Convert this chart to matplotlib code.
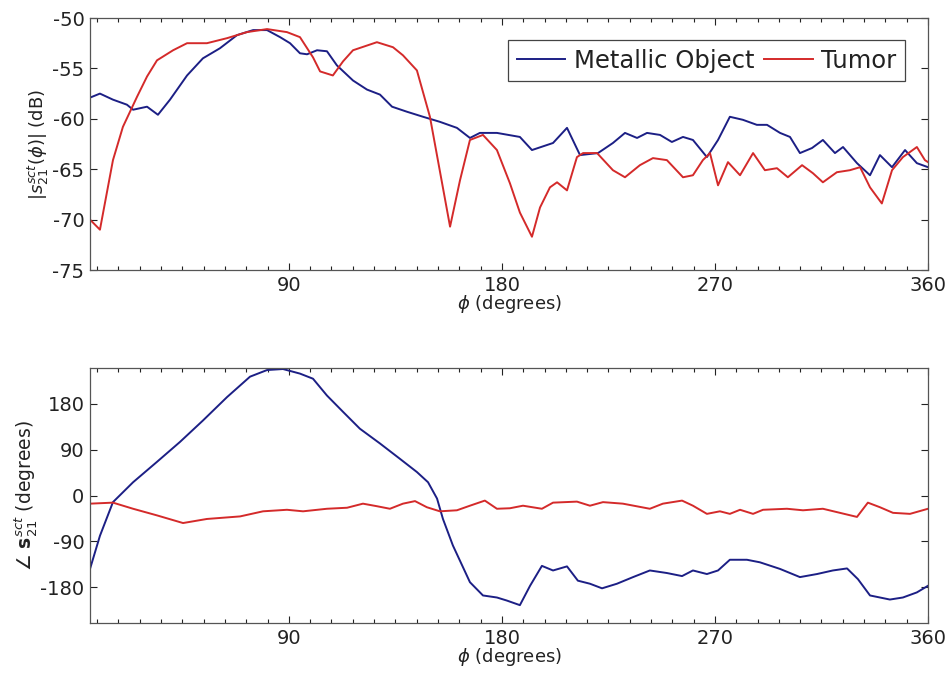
import matplotlib
matplotlib.use("Agg")
import matplotlib.pyplot as plt
from matplotlib.ticker import MultipleLocator

plt.rcParams['font.family'] = ['DejaVu Sans']
plt.rcParams['mathtext.fontset'] = 'dejavusans'
plt.rcParams['axes.unicode_minus'] = False

# ---- Top panel: magnitude (dB) ----
metal_mag_phi = [6.0, 10.2, 15.7, 21.6, 24.2, 30.1, 34.7, 39.8, 47.0, 53.7, 60.9, 68.1, 74.9,
                 80.8, 86.3, 90.5, 94.7, 97.7, 101.9, 106.1, 110.3, 117.1, 123.0, 128.5, 133.6,
                 139.9, 146.7, 153.8, 161.0, 166.5, 170.7, 177.9, 187.6, 192.7, 201.6, 207.5,
                 213.0, 220.6, 226.9, 232.0, 237.1, 241.3, 246.8, 251.8, 256.5, 260.7, 266.6,
                 271.3, 276.3, 281.8, 287.7, 292.0, 297.5, 301.7, 305.9, 311.0, 315.6, 320.7,
                 324.1, 330.0, 335.5, 339.7, 344.8, 350.3, 355.3, 360.0]
metal_mag = [-57.9, -57.5, -58.1, -58.6, -59.1, -58.8, -59.6, -58.1, -55.7, -54.0, -53.0, -51.7,
             -51.2, -51.2, -51.9, -52.5, -53.5, -53.6, -53.2, -53.3, -54.7, -56.2, -57.1, -57.6,
             -58.8, -59.3, -59.8, -60.3, -60.9, -61.9, -61.4, -61.4, -61.8, -63.1, -62.4, -60.9,
             -63.6, -63.4, -62.4, -61.4, -61.9, -61.4, -61.6, -62.3, -61.8, -62.1, -63.8, -62.1,
             -59.8, -60.1, -60.6, -60.6, -61.4, -61.8, -63.4, -62.9, -62.1, -63.4, -62.8, -64.4,
             -65.6, -63.6, -64.8, -63.1, -64.4, -64.8]

tumor_mag_phi = [6.0, 10.2, 15.7, 19.9, 25.9, 30.1, 34.3, 41.1, 47.0, 55.4, 63.9, 72.3, 80.8,
                 89.2, 94.7, 100.2, 103.2, 108.6, 112.9, 117.1, 127.2, 134.0, 138.2, 144.1,
                 149.6, 158.1, 162.3, 166.5, 172.0, 177.9, 183.4, 187.6, 192.7, 196.1, 200.3,
                 203.3, 207.5, 211.7, 214.3, 220.2, 226.9, 232.0, 238.3, 243.8, 249.7, 256.5,
                 260.7, 264.9, 267.9, 271.3, 275.5, 280.6, 286.1, 291.1, 296.2, 300.8, 306.8,
                 311.4, 315.6, 321.5, 327.0, 331.3, 335.5, 340.5, 344.8, 349.4, 355.3, 358.7, 360.0]
tumor_mag = [-70.0, -71.0, -64.1, -60.8, -57.8, -55.8, -54.2, -53.2, -52.5, -52.5, -52.0, -51.4,
             -51.1, -51.4, -51.9, -53.9, -55.3, -55.7, -54.3, -53.2, -52.4, -52.9, -53.7, -55.2,
             -59.8, -70.7, -66.1, -62.1, -61.6, -63.1, -66.4, -69.3, -71.7, -68.8, -66.8, -66.3,
             -67.1, -63.8, -63.4, -63.4, -65.1, -65.8, -64.6, -63.9, -64.1, -65.8, -65.6, -64.1,
             -63.4, -66.6, -64.3, -65.6, -63.4, -65.1, -64.9, -65.8, -64.6, -65.4, -66.3, -65.3,
             -65.1, -64.8, -66.8, -68.4, -65.1, -63.8, -62.8, -64.1, -64.3]

# ---- Bottom panel: phase (degrees) ----
metal_ph_phi = [6.0, 10.2, 15.7, 24.2, 34.3, 44.0, 53.7, 63.9, 73.6, 80.8, 87.5, 94.7, 100.2,
                106.1, 112.9, 120.0, 128.5, 136.9, 144.1, 148.8, 152.6, 155.1, 159.3, 165.2,
                166.5, 172.0, 177.9, 182.1, 187.6, 191.9, 196.9, 201.6, 207.5, 212.1, 217.2,
                222.3, 228.6, 235.4, 242.5, 249.7, 256.1, 260.7, 266.6, 271.3, 276.3, 283.5,
                289.0, 297.5, 305.9, 313.1, 319.8, 325.8, 330.4, 335.5, 343.9, 349.4, 355.3, 360.0]
metal_ph = [-144, -79, -13, 26, 66, 105, 147, 193, 233, 246, 248, 239, 229, 196, 164, 131, 102,
            72, 46, 26, -6, -46, -98, -157, -170, -196, -200, -206, -215, -177, -138, -147, -139,
            -167, -173, -182, -173, -160, -147, -152, -158, -147, -154, -147, -126, -126, -131,
            -144, -160, -154, -147, -143, -164, -196, -204, -200, -190, -177]

tumor_ph_phi = [6.0, 15.7, 24.2, 34.3, 45.3, 55.4, 69.4, 79.1, 89.2, 96.0, 106.1, 114.6, 121.3,
                127.2, 132.7, 138.2, 143.3, 148.3, 153.8, 161.0, 166.5, 172.8, 177.9, 183.4,
                188.9, 196.9, 201.6, 211.7, 217.2, 222.7, 231.1, 242.5, 248.0, 256.1, 260.7,
                266.6, 272.1, 276.3, 280.6, 286.1, 290.3, 300.4, 307.2, 315.6, 322.8, 330.0,
                334.6, 339.7, 345.2, 352.4, 360.0]
tumor_ph = [-16, -14, -26, -39, -54, -46, -41, -31, -28, -31, -26, -24, -16, -21, -26, -16, -11,
            -23, -31, -29, -20, -10, -26, -25, -20, -26, -14, -12, -20, -13, -16, -26, -16, -10,
            -20, -36, -31, -36, -28, -36, -28, -26, -29, -26, -34, -42, -14, -23, -34, -36, -26]

series_labels = ["Metallic Object", "Tumor"]
x_ticks = [90, 180, 270, 360]
mag_ticks = [-75, -70, -65, -60, -55, -50]
ph_ticks = [-180, -90, 0, 90, 180]

BLUE = "#1c1f85"
RED = "#d42a2a"
LW = 1.4

fig = plt.figure(figsize=(9.49, 6.82), dpi=100)
W, H = 949, 682
ax1 = fig.add_axes([90 / W, 1 - 270 / H, 838 / W, 252 / H])
ax2 = fig.add_axes([90 / W, 1 - 623 / H, 838 / W, 255 / H])

l1, = ax1.plot(metal_mag_phi, metal_mag, color=BLUE, lw=LW, label=series_labels[0])
l2, = ax1.plot(tumor_mag_phi, tumor_mag, color=RED, lw=LW, label=series_labels[1])
ax2.plot(metal_ph_phi, metal_ph, color=BLUE, lw=LW)
ax2.plot(tumor_ph_phi, tumor_ph, color=RED, lw=LW)

for ax in (ax1, ax2):
    ax.set_xlim(6, 360)
    ax.set_xticks(x_ticks)
    ax.xaxis.set_minor_locator(MultipleLocator(9))
    ax.tick_params(which='both', direction='in', top=True, right=True, colors='#222222',
                   labelsize=14, labelcolor='#222222')
    ax.tick_params(which='major', length=5, width=0.8, pad=4)
    ax.tick_params(which='minor', length=3, width=0.8)
    ax.tick_params(axis='y', which='minor', left=False, right=False)
    for s in ax.spines.values():
        s.set_color('#555555')
        s.set_linewidth(0.9)
    ax.set_xlabel(r'$\phi$ (degrees)', fontsize=13, labelpad=-1, color='#222222')

ax1.set_ylim(-75, -50)
ax1.set_yticks(mag_ticks)
ax1.set_ylabel(r'$|s_{21}^{sct}(\phi)|$ (dB)', fontsize=13, labelpad=1, color='#222222')

ax2.set_ylim(-250, 250)
ax2.set_yticks(ph_ticks)
ax2.set_ylabel(r'$\angle\ \mathbf{s}_{21}^{sct}$ (degrees)', fontsize=13.5, labelpad=1,
               color='#222222')

leg = ax1.legend(handles=[l1, l2], ncol=2, loc='upper right',
                 bbox_to_anchor=((905 - 90) / 838, 1 - (40 - 18) / 252),
                 borderaxespad=0, fontsize=17.5, frameon=True, fancybox=False,
                 framealpha=1, edgecolor='#444444', handlelength=2.0,
                 handletextpad=0.35, columnspacing=0.4, borderpad=0.35)
leg.get_frame().set_linewidth(0.9)
for t in leg.get_texts():
    t.set_color('#222222')

fig.savefig("out.png", dpi=100)
